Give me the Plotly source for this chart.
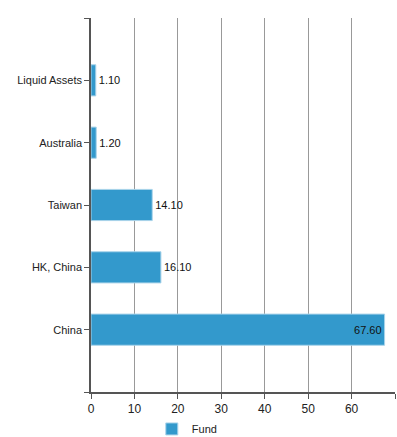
import plotly.graph_objects as go

categories = ["China", "HK, China", "Taiwan", "Australia", "Liquid Assets"]
values = [67.60, 16.10, 14.10, 1.20, 1.10]
x_ticks = [0, 10, 20, 30, 40, 50, 60, 70]
series_name = "Fund"

ypos = list(range(len(categories)))

fig = go.Figure()
fig.add_trace(go.Bar(
    y=ypos, x=values, orientation="h", name=series_name,
    width=0.5,
    marker=dict(color="#3399cc", line=dict(color="#a9d3ea", width=1)),
    texttemplate="%{x:.2f}",
    textposition=["inside", "outside", "outside", "outside", "outside"],
    insidetextanchor="end",
    textfont=dict(color="#111", size=11),
    insidetextfont=dict(color="#111", size=11),
    outsidetextfont=dict(color="#111", size=11),
    cliponaxis=False,
))

fig.update_layout(
    width=397, height=437,
    margin=dict(l=91, r=2, t=18, b=45, autoexpand=False),
    plot_bgcolor="white", paper_bgcolor="white",
    font=dict(family="Liberation Sans, Arial", size=11, color="#222"),
    bargap=0.5,
    showlegend=True,
    legend=dict(orientation="h", x=0.2, xanchor="left", y=-0.06, yanchor="top",
                font=dict(size=11, color="#222")),
)
fig.update_xaxes(
    range=[0, 70], tickvals=x_ticks, ticktext=[str(v) for v in x_ticks],
    tickfont=dict(size=12),
    showgrid=True, gridcolor="#999", gridwidth=1,
    showline=True, linecolor="#555", linewidth=1.5,
    ticks="outside", ticklen=5, tickcolor="#555",
    zeroline=False, automargin=False,
)
fig.update_yaxes(
    range=[-1, len(categories)],
    tickvals=[-1] + ypos + [len(categories)],
    ticktext=[""] + categories + [""],
    showgrid=False, showline=True, linecolor="#555", linewidth=1.5,
    ticks="outside", ticklen=5, tickcolor="#555",
    zeroline=False, automargin=False,
)

fig.write_html("out.html", config={"displayModeBar": False},
               post_script="document.body.style.margin='0px';")
